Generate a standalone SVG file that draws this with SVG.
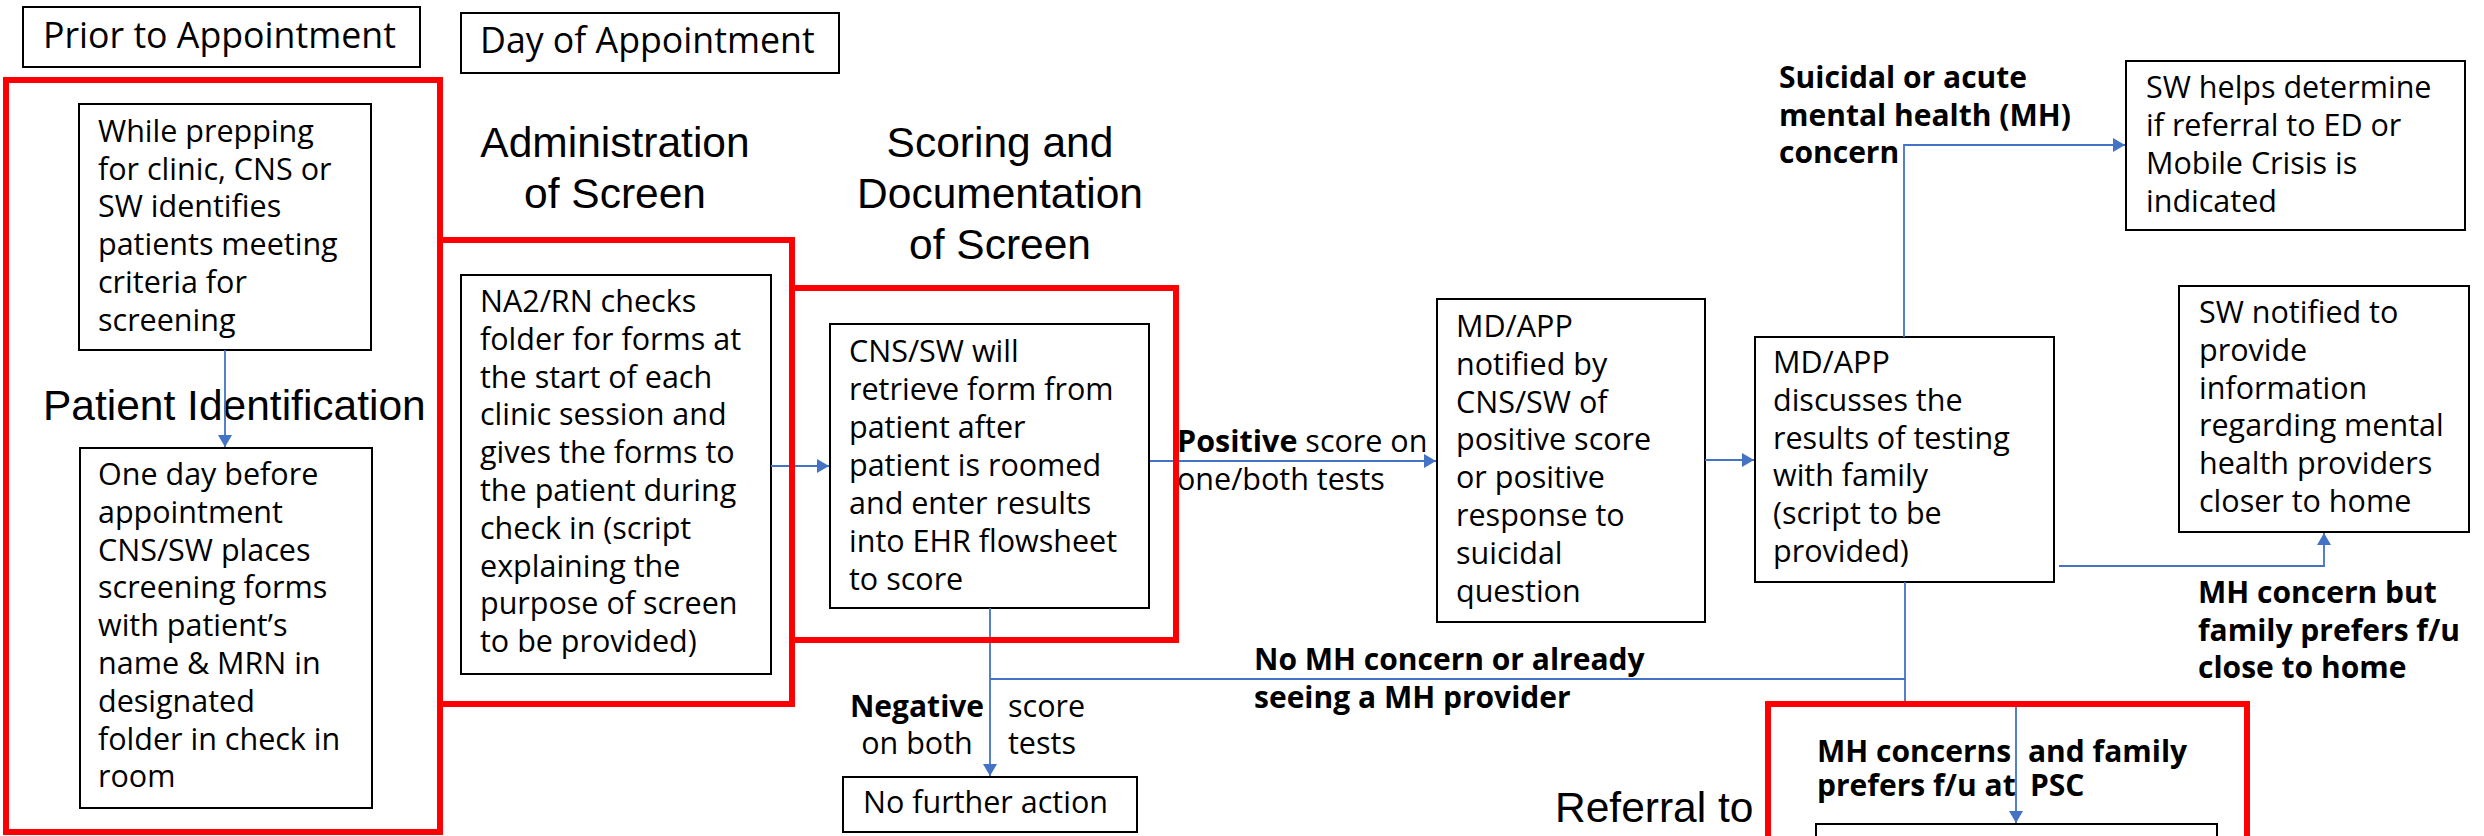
<svg xmlns="http://www.w3.org/2000/svg" width="2484" height="836" viewBox="0 0 2484 836">
<style>
.box{fill:#fff;stroke:#000;stroke-width:2}
.frame{fill:none;stroke:#FF0000;stroke-width:6}
.t{font-family:"Open Sans","Liberation Sans",sans-serif;font-size:30.5px;fill:#000}
.b{font-family:"Open Sans","Liberation Sans",sans-serif;font-size:30px;font-weight:bold;fill:#000}
.h{font-family:"Open Sans","Liberation Sans",sans-serif;font-size:35.7px;fill:#000}
.title{font-family:"Liberation Sans",Arial,sans-serif;font-size:42.5px;fill:#000}
.c{fill:none;stroke:#4472C4;stroke-width:1.8}
</style>
<defs>
<marker id="arr" viewBox="0 0 12 14" refX="12" refY="7" markerWidth="12" markerHeight="14" markerUnits="userSpaceOnUse" orient="auto"><path d="M0,0 L12,7 L0,14 Z" fill="#4472C4"/></marker>
</defs>
<rect width="2484" height="836" fill="#fff"/>

<g id="hdr-prior"><rect class="box" x="23" y="7" width="397" height="60"/><text class="h" x="43" y="48">Prior to Appointment</text></g>
<g id="hdr-day"><rect class="box" x="461" y="13" width="378" height="60"/><text class="h" x="480" y="53">Day of Appointment</text></g>

<g id="title-patient"><text class="title" x="43" y="420">Patient Identification</text></g>
<g id="title-admin"><text class="title" text-anchor="middle" x="615" y="157">Administration<tspan x="615" dy="51">of Screen</tspan></text></g>
<g id="title-scoring"><text class="title" text-anchor="middle" x="1000" y="157">Scoring and<tspan x="1000" dy="51">Documentation</tspan><tspan x="1000" dy="51">of Screen</tspan></text></g>
<g id="title-referral"><text class="title" x="1555" y="822">Referral to</text></g>

<g id="n-prep"><rect class="box" x="79" y="104" width="292" height="246"/>
<text class="t" x="98" y="142">While prepping<tspan x="98" dy="37.7">for clinic, CNS or</tspan><tspan x="98" dy="37.7">SW identifies</tspan><tspan x="98" dy="37.7">patients meeting</tspan><tspan x="98" dy="37.7">criteria for</tspan><tspan x="98" dy="37.7">screening</tspan></text></g>

<g id="n-oneday"><rect class="box" x="80" y="448" width="292" height="360"/>
<text class="t" x="98" y="485">One day before<tspan x="98" dy="37.8">appointment</tspan><tspan x="98" dy="37.8">CNS/SW places</tspan><tspan x="98" dy="37.8">screening forms</tspan><tspan x="98" dy="37.8">with patient’s</tspan><tspan x="98" dy="37.8">name &amp; MRN in</tspan><tspan x="98" dy="37.8">designated</tspan><tspan x="98" dy="37.8">folder in check in</tspan><tspan x="98" dy="37.8">room</tspan></text></g>

<g id="n-na2"><rect class="box" x="461" y="275" width="310" height="399"/>
<text class="t" x="480" y="312">NA2/RN checks<tspan x="480" dy="37.8">folder for forms at</tspan><tspan x="480" dy="37.8">the start of each</tspan><tspan x="480" dy="37.8">clinic session and</tspan><tspan x="480" dy="37.8">gives the forms to</tspan><tspan x="480" dy="37.8">the patient during</tspan><tspan x="480" dy="37.8">check in (script</tspan><tspan x="480" dy="37.8">explaining the</tspan><tspan x="480" dy="37.8">purpose of screen</tspan><tspan x="480" dy="37.8">to be provided)</tspan></text></g>

<g id="n-cns"><rect class="box" x="830" y="324" width="319" height="284"/>
<text class="t" x="849" y="362">CNS/SW will<tspan x="849" dy="38">retrieve form from</tspan><tspan x="849" dy="38">patient after</tspan><tspan x="849" dy="38">patient is roomed</tspan><tspan x="849" dy="38">and enter results</tspan><tspan x="849" dy="38">into EHR flowsheet</tspan><tspan x="849" dy="38">to score</tspan></text></g>

<g id="n-nofurther"><rect class="box" x="843" y="777" width="294" height="55"/><text class="t" x="863" y="813">No further action</text></g>

<g id="n-notified"><rect class="box" x="1437" y="299" width="268" height="323"/>
<text class="t" x="1456" y="337">MD/APP<tspan x="1456" dy="37.8">notified by</tspan><tspan x="1456" dy="37.8">CNS/SW of</tspan><tspan x="1456" dy="37.8">positive score</tspan><tspan x="1456" dy="37.8">or positive</tspan><tspan x="1456" dy="37.8">response to</tspan><tspan x="1456" dy="37.8">suicidal</tspan><tspan x="1456" dy="37.8">question</tspan></text></g>

<g id="n-discuss"><rect class="box" x="1755" y="337" width="299" height="245"/>
<text class="t" x="1773" y="373">MD/APP<tspan x="1773" dy="37.8">discusses the</tspan><tspan x="1773" dy="37.8">results of testing</tspan><tspan x="1773" dy="37.8">with family</tspan><tspan x="1773" dy="37.8">(script to be</tspan><tspan x="1773" dy="37.8">provided)</tspan></text></g>

<g id="n-swhelps"><rect class="box" x="2126" y="61" width="339" height="169"/>
<text class="t" x="2146" y="98">SW helps determine<tspan x="2146" dy="38">if referral to ED or</tspan><tspan x="2146" dy="38">Mobile Crisis is</tspan><tspan x="2146" dy="38">indicated</tspan></text></g>

<g id="n-swnotified"><rect class="box" x="2179" y="286" width="290" height="246"/>
<text class="t" x="2199" y="323">SW notified to<tspan x="2199" dy="37.8">provide</tspan><tspan x="2199" dy="37.8">information</tspan><tspan x="2199" dy="37.8">regarding mental</tspan><tspan x="2199" dy="37.8">health providers</tspan><tspan x="2199" dy="37.8">closer to home</tspan></text></g>

<g id="n-psc"><rect class="box" x="1816" y="824" width="401" height="60"/></g>

<g id="connectors">
<path class="c" d="M225,350 V447" marker-end="url(#arr)"/>
<path class="c" d="M771,466 H829" marker-end="url(#arr)"/>
<path class="c" d="M1150,461 H1436" marker-end="url(#arr)"/>
<path class="c" d="M990,608 V776" marker-end="url(#arr)"/>
<path class="c" d="M1705,460 H1754" marker-end="url(#arr)"/>
<path class="c" d="M1904,337 V145 H2125" marker-end="url(#arr)"/>
<path class="c" d="M2059,566 H2324 V533" marker-end="url(#arr)"/>
<path class="c" d="M1905,582 V679 H990"/>
<path class="c" d="M1905,679 V704 H2016 V823" marker-end="url(#arr)"/>
</g>

<g id="labels">
<text class="t" x="1177" y="452"><tspan font-weight="bold">Positive</tspan> score on<tspan x="1177" dy="38">one/both tests</tspan></text>
<text class="b" text-anchor="middle" x="917" y="717">Negative</text>
<text class="t" text-anchor="middle" x="917" y="754">on both</text>
<text class="t" x="1008" y="717">score<tspan x="1008" dy="37">tests</tspan></text>
<text class="b" x="1254" y="670">No MH concern or already<tspan x="1254" dy="38">seeing a MH provider</tspan></text>
<text class="b" x="1779" y="88">Suicidal or acute<tspan x="1779" dy="38">mental health (MH)</tspan><tspan x="1779" dy="37">concern</tspan></text>
<text class="b" x="2198" y="603">MH concern but<tspan x="2198" dy="37.5">family prefers f/u</tspan><tspan x="2198" dy="37.5">close to home</tspan></text>
<text class="b" x="1817" y="762">MH concerns<tspan x="2028">and family</tspan><tspan x="1817" dy="34">prefers f/u at</tspan><tspan x="2030">PSC</tspan></text>
</g>

<g id="frame-patient"><rect class="frame" x="6" y="80" width="434" height="752"/></g>
<g id="frame-admin"><rect class="frame" x="440" y="240" width="352" height="464"/></g>
<g id="frame-scoring"><rect class="frame" x="792" y="288" width="384" height="352"/></g>
<g id="frame-referral"><rect class="frame" x="1768" y="704" width="479" height="200"/></g>
</svg>
